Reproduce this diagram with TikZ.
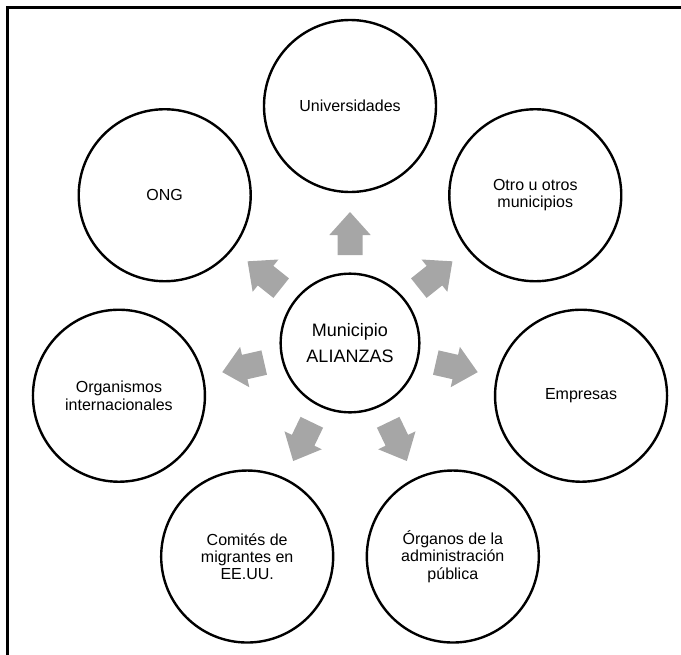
\documentclass[tikz,border=0pt]{standalone}
\usepackage{fontspec}
\setmainfont{Liberation Sans}
\usepackage{xcolor}
\usepackage{tikz}
\definecolor{pfeilgrau}{RGB}{166,166,166}
\tikzset{
  kreis/.style={circle,draw=black,line width=1.8pt,fill=white,minimum size=129pt,inner sep=0pt,align=center,font=\fontsize{12}{13}\selectfont},
  mitte/.style={kreis,minimum size=104pt,font=\fontsize{13.5}{20}\selectfont}
}

\begin{document}
\begin{tikzpicture}[x=0.75pt,y=0.75pt]
%1 Einheit = 1 Pixel, der mittlere Kreis sitzt im Ursprung.
%Die sieben Kreise liegen auf einem Ring mit Abstand \dist, der Winkel zwischen ihnen ist 360/7.
%Pfeil: Anfang bei \pa, Spitze setzt bei \pk an, Spitze bei \ps (alles vom Mittelpunkt aus)
  \pgfmathsetmacro{\dist}{237}
  \pgfmathsetmacro{\schritt}{360/7}
  \pgfmathsetmacro{\pa}{88}
  \pgfmathsetmacro{\pk}{108}
  \pgfmathsetmacro{\ps}{131}
\clip (-350,-311) rectangle (331,343);
\draw[line width=1.8pt] (-342.5,-400) rectangle (400,335.5);
\node[mitte] (municipio) at (0,0) {Municipio\\ALIANZAS};
\foreach \txt [count=\i from 0] in {Universidades,{Otro u otros\\municipios},Empresas,{Órganos de la\\administración\\pública},{Comités de\\migrantes en\\EE.UU.},{Organismos\\internacionales},ONG}{
  \pgfmathsetmacro{\ang}{90-\i*\schritt}
  \node[kreis] (socio\i) at (\ang:\dist) {\txt};
  \fill[pfeilgrau,rotate=\ang] (\pa,-12.5) -- (\pk,-12.5) -- (\pk,-20.7) -- (\ps,0) -- (\pk,20.7) -- (\pk,12.5) -- (\pa,12.5) -- cycle;
}
\end{tikzpicture}
\end{document}
